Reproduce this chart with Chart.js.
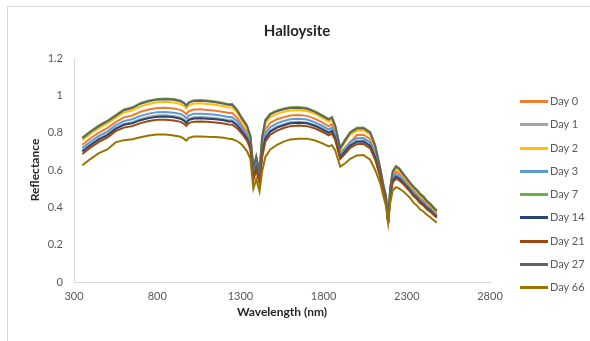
<!DOCTYPE html>
<html><head><meta charset="utf-8">
<script src="https://cdn.jsdelivr.net/npm/chart.js@4.4.1/dist/chart.umd.min.js"></script>
<style>
html,body{margin:0;padding:0;background:#fff;width:590px;height:341px;overflow:hidden;font-family:Lato,'Open Sans',sans-serif;}
#frame{position:absolute;left:7px;top:6px;width:700px;height:400px;border-left:1px solid #d9d9d9;border-top:1px solid #d9d9d9;box-sizing:border-box;}
#wrap{position:absolute;left:0;top:0;width:590px;height:341px;}
#title{position:absolute;left:0;width:594px;top:21px;text-align:center;font-size:15px;font-weight:bold;color:#262626;line-height:18px;}
#legend{position:absolute;left:520px;top:0;width:70px;height:341px;}
.item{position:absolute;left:0;width:70px;height:14px;}
.swatch{position:absolute;left:0;top:6px;width:28px;height:3px;}
.lbl{position:absolute;left:30px;top:0;font-size:11px;line-height:14px;color:#595959;white-space:nowrap;}
</style></head>
<body>
<div id="frame"></div>
<div id="wrap"><canvas id="c" width="590" height="341"></canvas></div>
<div id="title"></div>
<div id="legend"></div>
<script>
const chartTitle = 'Halloysite';
const wavelengths = [350,400,450,500,550,600,650,700,750,800,850,900,940,960,975,990,1020,1060,1100,1150,1200,1230,1250,1280,1310,1340,1360,1378,1395,1415,1430,1450,1480,1520,1560,1600,1650,1700,1750,1800,1830,1850,1870,1885,1900,1930,1960,2000,2040,2080,2110,2140,2160,2175,2188,2200,2215,2235,2255,2280,2300,2320,2340,2360,2380,2400,2420,2440,2460,2480];

const seriesLabels = ['Day 0','Day 1','Day 2','Day 3','Day 7','Day 14','Day 21','Day 27','Day 66'];

const day0 = [.735,.770,.800,.824,.856,.882,.892,.912,.924,.932,
 .934,.930,.922,.912,.899,.915,.924,.925,.922,.918,
 .911,.905,.906,.880,.841,.803,.751,.584,.641,.565,
 .727,.818,.853,.872,.883,.892,.894,.890,.874,.851,
 .835,.845,.804,.747,.692,null,null,.787,.789,.765,
 .699,.591,.501,.447,.317,.481,.566,.592,.580,.553,
 .532,.511,.488,.472,.450,.437,.415,.401,.382,.365];

const day1 = [.704,.739,.769,.792,.825,.847,.856,.873,.885,.892,
 .893,.889,.882,.872,.859,.874,.883,.884,.882,.878,
 .872,.866,.866,.845,.811,.774,.725,.560,.615,.542,
 .688,.776,.812,.833,.846,.856,.858,.855,.841,.820,
 .804,.813,.776,.723,.671,.704,.736,.756,.758,.734,
 .671,.574,.489,.435,.317,.464,.544,.568,.557,.534,
 .514,.494,.470,.455,.433,.420,.399,.386,.368,.352];

const day2 = [.759,.794,.824,.849,.879,.908,.919,.941,.954,.963,
 .965,.962,.954,.944,.930,.946,.956,.957,.954,.949,
 .941,.934,.936,.908,.864,.825,.771,.602,.661,.582,
 .756,.850,.884,.901,.912,.919,.922,.916,.899,.875,
 .859,.869,.825,.766,.709,.751,.789,.811,.812,.789,
 .720,.604,.511,.456,.318,.494,.582,.610,.597,.568,
 .546,.524,.502,.486,.464,.449,.427,.413,.393,.375];

const day3 = [.718,.753,.783,.806,.839,.862,.872,.890,.902,.910,
 .911,.907,.900,.890,.877,.892,.901,.902,.900,.896,
 .889,.883,.884,.861,.825,.786,.737,.570,.627,.552,
 .705,.795,.830,.850,.863,.872,.874,.870,.855,.833,
 .818,.827,.788,.734,.681,.715,.750,.770,.771,.748,
 .683,.581,.494,.440,.317,.471,.554,.578,.567,.543,
 .522,.501,.478,.462,.440,.427,.406,.393,.374,.358];

const day7 = [.774,.809,.839,.864,.894,.924,.936,.959,.972,.981,
 .983,.980,.972,.962,.948,.964,.974,.975,.972,.967,
 .959,.952,.954,.924,.879,.839,.784,.614,.674,.594,
 .774,.869,.902,.919,.929,.936,.938,.932,.914,.890,
 .874,.884,.839,.779,.720,.764,.804,.826,.827,.804,
 .734,.614,.519,.464,.320,.504,.594,.622,.609,.579,
 .556,.534,.512,.496,.474,.459,.436,.422,.402,.384];

const day14 = [.699,.734,.764,.786,.820,.842,.850,.867,.878,.885,
 .886,.882,.875,.865,.852,.868,.876,.877,.875,.872,
 .866,.860,.860,.839,.806,.769,.721,.556,.611,.539,
 .682,.769,.806,.827,.840,.850,.853,.850,.836,.814,
 .799,.808,.771,.719,.668,.699,.731,.751,.753,.729,
 .666,.571,.487,.433,.317,.461,.541,.564,.554,.531,
 .511,.491,.467,.452,.430,.417,.397,.384,.366,.350];

const day21 = [.686,.721,.751,.773,.808,.827,.835,.851,.862,.869,
 .869,.865,.858,.848,.836,.851,.859,.860,.858,.855,
 .849,.844,.843,.824,.794,.757,.710,.546,.600,.529,
 .666,.752,.789,.811,.825,.835,.838,.835,.822,.801,
 .786,.795,.760,.708,.659,.688,.719,.738,.740,.716,
 .655,.564,.482,.428,.316,.454,.532,.554,.544,.523,
 .503,.484,.460,.444,.422,.410,.390,.377,.360,.344];

const day27 = [.770,.805,.835,.860,.890,.920,.932,.955,.968,.977,
 .979,.976,.968,.958,.944,.960,.970,.971,.968,.963,
 .955,.948,.950,.920,.875,.835,.780,.610,.670,.590,
 .770,.865,.898,.915,.925,.932,.934,.928,.910,.886,
 .870,.880,.835,.775,.716,.760,.800,.822,.823,.800,
 .730,.610,.515,.460,.318,.500,.590,.618,.605,.575,
 .552,.530,.508,.492,.470,.455,.432,.418,.398,.380];

const day66 = [.625,.660,.690,.710,.748,.760,.765,.775,.785,.790,
 .790,.785,.778,.768,.757,.772,.779,.780,.778,.777,
 .773,.768,.766,.755,.735,.700,.660,.500,.550,.485,
 .590,.670,.710,.735,.752,.764,.768,.768,.758,.740,
 .726,.733,.705,.660,.618,.636,.660,.678,.680,.655,
 .600,.530,.458,.405,.315,.420,.490,.508,.500,.485,
 .468,.450,.425,.410,.388,.378,.360,.348,.332,.318];

const xTicks = [300,800,1300,1800,2300,2800];
const yTicks = [0,0.2,0.4,0.6,0.8,1,1.2];

const seriesValues = [day0,day1,day2,day3,day7,day14,day21,day27,day66];
const seriesColors = ['#ED7D31','#A5A5A5','#FFC000','#5B9BD5','#70AD47','#264478','#9E480E','#636363','#997300'];

const FONT = "Lato, 'Open Sans', sans-serif";

document.getElementById('title').textContent = chartTitle;

const datasets = seriesValues.map((vals, i) => ({
  label: seriesLabels[i],
  data: wavelengths.map((w, j) => ({x: w, y: vals[j]})),
  borderColor: seriesColors[i],
  backgroundColor: seriesColors[i],
  borderWidth: 2,
  pointRadius: 0,
  tension: 0,
  fill: false,
  spanGaps: true,
  order: seriesValues.length - i
}));

new Chart(document.getElementById('c'), {
  type: 'line',
  data: { datasets },
  options: {
    responsive: false,
    animation: false,
    events: [],
    layout: { padding: { left: 14, right: 100, top: 58, bottom: 9 } },
    plugins: {
      legend: { display: false },
      tooltip: { enabled: false },
      title: { display: false }
    },
    scales: {
      x: {
        type: 'linear',
        min: xTicks[0],
        max: xTicks[xTicks.length - 1],
        afterBuildTicks: s => { s.ticks = xTicks.map(v => ({ value: v })); },
        afterFit: s => { s.height = 50; },
        grid: { display: false, drawTicks: false },
        border: { display: true, color: '#d9d9d9', width: 1 },
        ticks: {
          color: '#595959',
          font: { family: FONT, size: 11 },
          padding: 8,
          maxRotation: 0,
          autoSkip: false,
          callback: v => String(v)
        },
        title: {
          display: true,
          text: 'Wavelength (nm)',
          color: '#262626',
          font: { family: FONT, size: 12, weight: 'bold', lineHeight: 1.2 },
          padding: { top: 0, bottom: 13 }
        }
      },
      y: {
        type: 'linear',
        min: yTicks[0],
        max: yTicks[yTicks.length - 1],
        afterBuildTicks: s => { s.ticks = yTicks.map(v => ({ value: v })); },
        afterFit: s => { s.width = 60; },
        grid: { display: false, drawTicks: false },
        border: { display: true, color: '#d9d9d9', width: 1 },
        ticks: {
          color: '#595959',
          font: { family: FONT, size: 11 },
          padding: 11,
          autoSkip: false,
          callback: v => String(Math.round(v * 10) / 10)
        },
        title: {
          display: true,
          text: 'Reflectance',
          color: '#262626',
          font: { family: FONT, size: 12, weight: 'bold', lineHeight: 1.2 },
          padding: { top: 14, bottom: 0 }
        }
      }
    }
  }
});

// legend built from the series labels
const lg = document.getElementById('legend');
seriesLabels.forEach((lab, i) => {
  const it = document.createElement('div');
  it.className = 'item';
  it.style.top = (94 + i * 23.25) + 'px';
  const sw = document.createElement('div');
  sw.className = 'swatch';
  sw.style.background = seriesColors[i];
  const tx = document.createElement('div');
  tx.className = 'lbl';
  tx.textContent = lab;
  it.appendChild(sw); it.appendChild(tx);
  lg.appendChild(it);
});
</script>
</body></html>
